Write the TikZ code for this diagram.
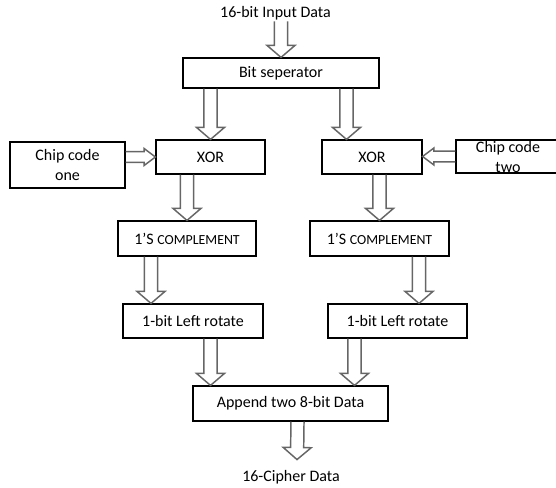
\documentclass[tikz,border=0pt]{standalone}
\usepackage{fontspec}
\setmainfont{Carlito}
\usetikzlibrary{calc,positioning}
\tikzset{
  box/.style={draw, rectangle, line width=0.9pt, align=center, inner sep=1pt,
    font=\fontsize{12}{15}\selectfont},
  lbl/.style={inner sep=1pt, font=\fontsize{12}{15}\selectfont},
  fatshaft/.store in=\fatshaft, fathead/.store in=\fathead, fatlen/.store in=\fatlen,
  fatshaft=4.9pt, fathead=10.5pt, fatlen=9pt,
  fat/.style={draw=black!60, line width=1.1pt, to path={
    let \p1=(\tikztostart), \p2=(\tikztotarget) in
    ($(\p1)!\fatshaft!90:(\p2)$)
    -- ($($(\p2)!\fatlen!(\p1)$)!\fatshaft!90:(\p2)$)
    -- ($($(\p2)!\fatlen!(\p1)$)!\fathead!90:(\p2)$)
    -- (\p2)
    -- ($($(\p2)!\fatlen!(\p1)$)!\fathead!-90:(\p2)$)
    -- ($($(\p2)!\fatlen!(\p1)$)!\fatshaft!-90:(\p2)$)
    -- ($(\p1)!\fatshaft!-90:(\p2)$)}},
  thin fat/.style={fat, fatshaft=4.1pt, fathead=6.4pt, fatlen=8.5pt},
}
\newcommand{\smallcap}[1]{{\fontsize{10.4}{15}\selectfont #1}}

\begin{document}
\begin{tikzpicture}[x=0.75pt, y=-0.75pt]
\useasboundingbox (0,0) rectangle (556,488);
% labels and blocks
\node[lbl] (in) at (275.5,13) {16-bit Input Data};
\node[box, minimum width=147pt, minimum height=22.5pt] (bs) at (281,73) {Bit seperator};
\node[box, minimum width=81.75pt, minimum height=25.5pt] (xl) at (210.5,157) {XOR};
\node[box, minimum width=75pt, minimum height=25.5pt] (xr) at (372,157) {XOR};
\node[box, minimum width=86.25pt, minimum height=34.5pt] (ch1) at (67.5,165) {Chip code\\one};
\node[box, minimum width=78pt, inner sep=0pt, text height=24.75pt, text depth=0pt] (ch2) at (508,156.5) {Chip code\\two};
\node[box, minimum width=103.5pt, minimum height=26.25pt] (cl) at (187,238.5) {1’S \smallcap{COMPLEMENT}};
\node[box, minimum width=104.25pt, minimum height=26.25pt] (cr) at (379.5,238.5) {1’S \smallcap{COMPLEMENT}};
\node[box, minimum width=105pt, minimum height=25.5pt] (rl) at (193,321) {1-bit Left rotate};
\node[box, minimum width=104.25pt, minimum height=25.5pt] (rr) at (397.5,321) {1-bit Left rotate};
\node[box, minimum width=146.25pt, minimum height=26.25pt] (ap) at (290.5,403.5) {Append two 8-bit Data};
\node[lbl] (out) at (291,477) {16-Cipher Data};
% block arrows
\draw[fat] (in.south -| bs.north) to (bs.north);
\draw[fat] (bs.south -| xl.north) to (xl.north);
\draw[fat] ([shift={(-25.5,0)}]xr.north |- bs.south) to ([shift={(-25.5,0)}]xr.north);
\draw[thin fat] (ch1.east |- xl.west) to (xl.west);
\draw[thin fat] (ch2.west) to (ch2.west -| xr.east);
\draw[fat] (xl.south -| cl.north) to (cl.north);
\draw[fat] (xr.south -| cr.north) to (cr.north);
\draw[fat] ([shift={(-36,0)}]cl.south) to ([shift={(-36,0)}]cl.south |- rl.north);
\draw[fat] ([shift={(39.5,0)}]cr.south) to ([shift={(39.5,0)}]cr.south |- rr.north);
\draw[fat] ([shift={(17.5,0)}]rl.south) to ([shift={(17.5,0)}]rl.south |- ap.north);
\draw[fat] ([shift={(-43,0)}]rr.south) to ([shift={(-43,0)}]rr.south |- ap.north);
\draw[fat] ([shift={(7,0)}]ap.south) to ([shift={(6,-9)}]out.north);
\end{tikzpicture}
\end{document}
